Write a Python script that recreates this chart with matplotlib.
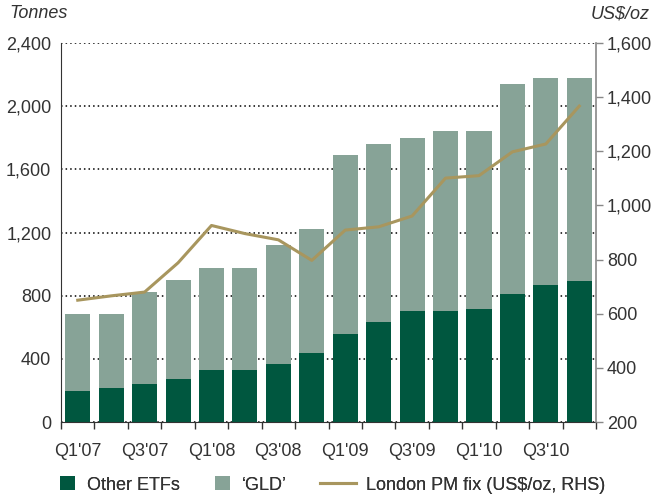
import matplotlib.pyplot as plt
import numpy as np
from matplotlib.patches import Patch
from matplotlib.lines import Line2D

quarters = ["Q1'07", "Q2'07", "Q3'07", "Q4'07", "Q1'08", "Q2'08", "Q3'08", "Q4'08",
            "Q1'09", "Q2'09", "Q3'09", "Q4'09", "Q1'10", "Q2'10", "Q3'10", "Q4'10"]
other_etfs = [196, 217, 240, 272, 329, 329, 367, 437, 557, 633, 703, 703, 715, 812, 869, 893]
total_holdings = [684, 684, 823, 899, 975, 975, 1122, 1222, 1691, 1761, 1800, 1843, 1843, 2141, 2178, 2178]
pm_fix = [650, 666, 680, 788, 926, 896, 873, 797, 909, 921, 961, 1101, 1110, 1198, 1227, 1367]

gld = [t - o for t, o in zip(total_holdings, other_etfs)]

dark = "#00573f"
light = "#87a397"
gold = "#a8965e"
txt = "#333333"

plt.rcParams['font.family'] = ['Liberation Sans', 'DejaVu Sans']
plt.rcParams['font.size'] = 13

fig = plt.figure(figsize=(6.52, 4.99), dpi=100)
ax = fig.add_axes([0.0936, 0.1543, 0.8205, 0.7595])
x = np.arange(len(quarters))

ax.bar(x, other_etfs, width=0.75, color=dark, zorder=2)
ax.bar(x, gld, width=0.75, bottom=other_etfs, color=light, zorder=2)

ax.set_xlim(-0.5, len(quarters) - 0.5)
ax.set_ylim(0, 2400)
ax.set_yticks(np.arange(0, 2401, 400))
ax.set_yticklabels([f"{v:,}" for v in range(0, 2401, 400)], color=txt)
ax.tick_params(axis='y', length=0, pad=7)
ax.yaxis.grid(True, linestyle=(0, (1, 2)), color='black', linewidth=1.1)
ax.set_axisbelow(True)

# quarter labels under every other bar, tick marks between bars
ax.set_xticks(x[::2])
ax.set_xticklabels(quarters[::2], color=txt)
ax.tick_params(axis='x', which='major', length=0, pad=15)
ax.set_xticks(np.arange(-0.5, len(quarters), 1), minor=True)
ax.tick_params(axis='x', which='minor', length=5, width=1, color=txt, direction='out')

ax.spines['top'].set_visible(False)
ax.spines['right'].set_visible(False)
ax.spines['left'].set_color(txt)
ax.spines['bottom'].set_color(txt)

ax2 = ax.twinx()
ax2.plot(x, pm_fix, color=gold, linewidth=2.2, zorder=3)
ax2.set_ylim(200, 1600)
ax2.set_yticks(np.arange(200, 1601, 200))
ax2.set_yticklabels([f"{v:,}" for v in range(200, 1601, 200)], color=txt)
ax2.tick_params(axis='y', length=5, width=1, color='#888888', pad=3)
for s in ['top', 'left', 'bottom']:
    ax2.spines[s].set_visible(False)
ax2.spines['right'].set_color('#888888')
ax2.spines['right'].set_linewidth(1.2)

fig.text(0.015, 0.972, "Tonnes", style='italic', color=txt, ha='left', va='center')
fig.text(0.997, 0.972, "US$/oz", style='italic', color=txt, ha='right', va='center')

# three single-entry legends so patch and line handles can differ in size
entries = [
    (Patch(facecolor=dark, linewidth=0), "Other ETFs", 60, 0.83, 0.66),
    (Patch(facecolor=light, linewidth=0), "\u2018GLD\u2019", 215, 0.83, 0.66),
    (Line2D([], [], color=gold, linewidth=2.2), "London PM fix (US$/oz, RHS)", 320, 2.0, 0.55),
]
for handle, label, xpix, hl, tp in entries:
    leg = fig.legend([handle], [label], loc='center left', bbox_to_anchor=(xpix / 652, 1 - 485 / 499),
                     frameon=False, borderpad=0, borderaxespad=0, handlelength=hl, handleheight=0.78,
                     handletextpad=tp, labelcolor=txt)
    fig.add_artist(leg)

fig.savefig("out.png", dpi=100)
